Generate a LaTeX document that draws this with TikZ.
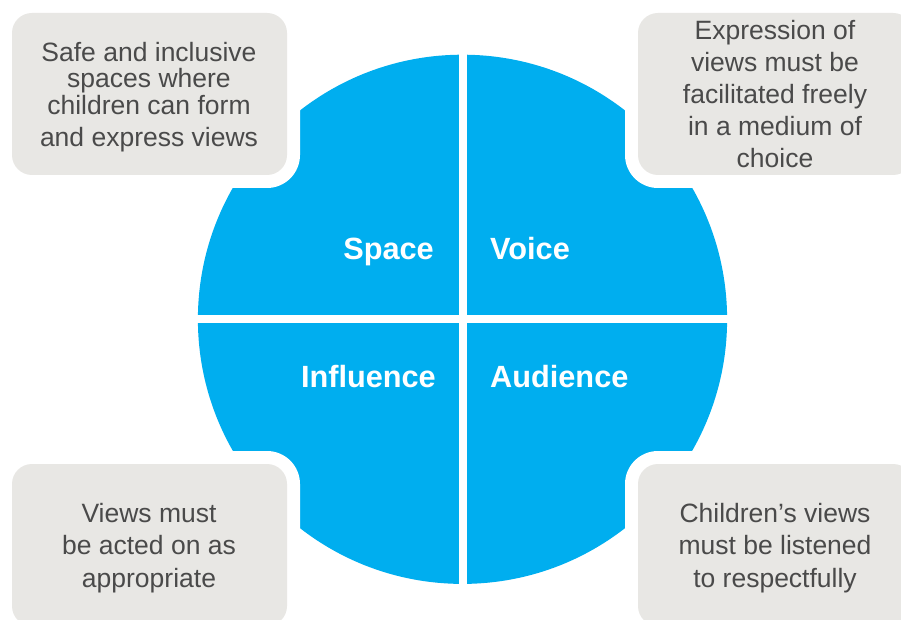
\documentclass[tikz,border=0pt]{standalone}
\usepackage{fontspec}
\setmainfont{Liberation Sans}
\definecolor{cblue}{HTML}{00AEEF}
\definecolor{boxgray}{HTML}{E8E7E4}
\definecolor{txtgray}{HTML}{4A4A4A}
\begin{document}
\begin{tikzpicture}[x=1pt,y=-1pt,
  halo/.style={fill=white, rounded corners=33pt, draw=none, inner sep=0pt, minimum width=301pt, minimum height=188pt},
  card/.style={fill=boxgray, rounded corners=20pt, draw=none, inner sep=0pt, minimum width=275pt, minimum height=162pt},
  cardtext/.style={text=txtgray, align=center, font=\fontsize{26.5}{32}\selectfont, inner sep=0pt},
  quad/.style={text=white, font=\fontsize{30.7}{36}\selectfont\bfseries, inner sep=0pt},
  gap/.style={white, line width=7.8pt}]
\useasboundingbox (0,0) rectangle (901,620);
\clip (0,0) rectangle (901,620);
% circle
\fill[cblue] (462.5,319.3) circle[radius=264.6];
\draw[gap] (463,40) -- (463,600);
\draw[gap] (180,319) -- (745,319);
% halos
\node[halo] (htl) at (149.5,94) {};
\node[halo] (htr) at (775.5,94) {};
\node[halo] (hbl) at (149.5,545) {};
\node[halo] (hbr) at (775.5,545) {};
% cards
\node[card] (ctl) at (149.5,94) {};
\node[card] (ctr) at (775.5,94) {};
\node[card] (cbl) at (149.5,545) {};
\node[card] (cbr) at (775.5,545) {};
% card texts
\node[cardtext] (ttl) at (149,97) {Safe and inclusive\\[-5.5pt]spaces where\\[-5pt]children can form\\and express views};
\node[cardtext] (ttr) at (775,94) {Expression of\\views must be\\facilitated freely\\in a medium of\\choice};
\node[cardtext] (tbl) at (149,548) {Views must\\[0.5pt]be acted on as\\[0.5pt]appropriate};
\node[cardtext] (tbr) at (775,548) {Children’s views\\[0.5pt]must be listened\\[0.5pt]to respectfully};
% quadrant labels
\node[quad, anchor=base east] (space) at (434,259) {Space};
\node[quad, anchor=base west] (voice) at (490,259) {Voice};
\node[quad, anchor=base east] (influence) at (436,387) {Influence};
\node[quad, anchor=base west] (audience) at (490,387) {Audience};
\end{tikzpicture}
\end{document}
